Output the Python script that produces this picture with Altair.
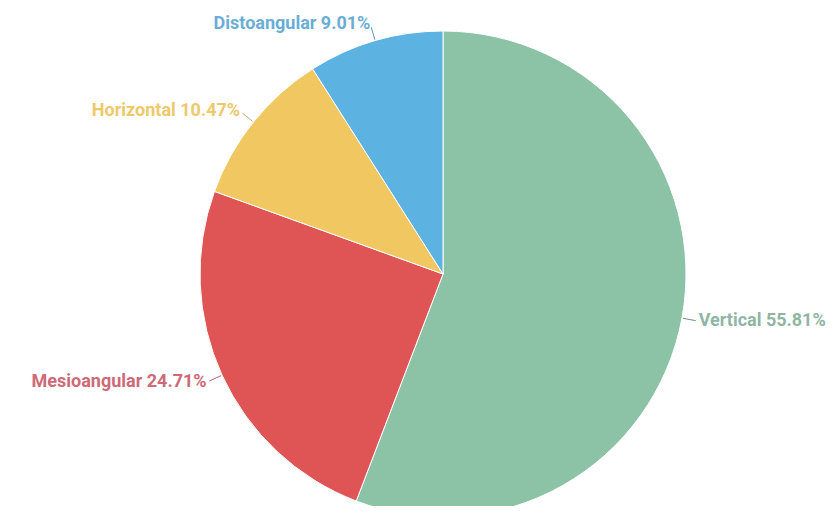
import altair as alt
import pandas as pd

categories = ["Vertical", "Mesioangular", "Horizontal", "Distoangular"]
values = [55.81, 24.71, 10.47, 9.01]

slice_colors = ["#8CC3A6", "#DF5454", "#F0C760", "#5CB3E2"]
label_colors = ["#8FB5A5", "#CC6B77", "#EEC86A", "#6AAED6"]
line_colors = ["#6F8F80", "#B86570", "#C8A865", "#6A94B0"]

CX, CY, R = 435, 266, 243
R_LINE0, R_LINE1, R_LABEL = 244, 257, 260

df = pd.DataFrame({"category": categories, "value": values, "order": list(range(len(categories)))})

base = alt.Chart(df)

arcs = base.mark_arc(outerRadius=R, stroke="white", strokeWidth=1).encode(
    theta=alt.Theta("value:Q", stack=True),
    order=alt.Order("order:Q"),
    color=alt.Color("category:N", scale=alt.Scale(domain=categories, range=slice_colors), legend=None),
    x=alt.value(CX),
    y=alt.value(CY),
)

geo = base.transform_window(
    cum="sum(value)", sort=[alt.SortField("order")], frame=[None, 0]
).transform_joinaggregate(
    total="sum(value)"
).transform_calculate(
    mid="(datum.cum - datum.value/2) / datum.total * 2 * PI",
).transform_calculate(
    lx=f"{CX} + {R_LABEL} * sin(datum.mid)",
    ly=f"{CY} - {R_LABEL} * cos(datum.mid)",
    ax=f"{CX} + {R_LINE0} * sin(datum.mid)",
    ay=f"{CY} - {R_LINE0} * cos(datum.mid)",
    bx=f"{CX} + {R_LINE1} * sin(datum.mid)",
    by=f"{CY} - {R_LINE1} * cos(datum.mid)",
    label="datum.category + ' ' + format(datum.value, '.2f') + '%'",
    right="sin(datum.mid) > 0",
)

lines = geo.mark_rule(strokeWidth=1).encode(
    x=alt.X("ax:Q", scale=None, axis=None),
    y=alt.Y("ay:Q", scale=None, axis=None),
    x2="bx:Q",
    y2="by:Q",
    color=alt.Color("category:N", scale=alt.Scale(domain=categories, range=line_colors), legend=None),
)

def text_layer(is_right):
    return geo.transform_filter(
        "datum.right" if is_right else "!datum.right"
    ).mark_text(
        align="left" if is_right else "right",
        baseline="middle",
        font="Roboto",
        fontSize=18,
        fontWeight="bold",
    ).encode(
        x=alt.X("lx:Q", scale=None, axis=None),
        y=alt.Y("ly:Q", scale=None, axis=None),
        text="label:N",
        color=alt.Color("category:N", scale=alt.Scale(domain=categories, range=label_colors), legend=None),
    )

chart = alt.layer(arcs, lines, text_layer(True), text_layer(False)).resolve_scale(
    color="independent"
).properties(
    width=820, height=498, padding=0, autosize="none"
).configure_view(stroke=None)

chart.save("out.html", embed_options={"renderer": "svg", "actions": False})
